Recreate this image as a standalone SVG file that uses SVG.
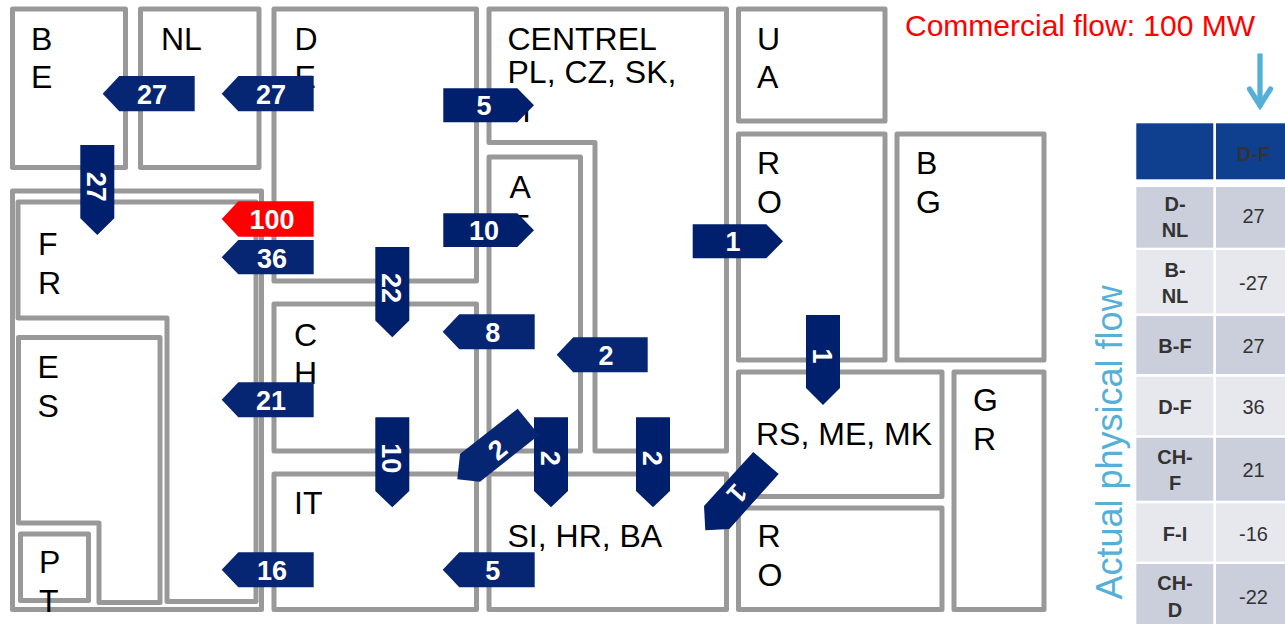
<svg xmlns="http://www.w3.org/2000/svg" width="1285" height="624" viewBox="0 0 1285 624">
<style>
.z{fill:#fff;stroke:#999;stroke-width:5;stroke-linejoin:round}
.l{font:32px "Liberation Sans",Arial,sans-serif;fill:#000}
.a{fill:#001f6c}
.b{fill:#062673}
.r{fill:#f00}
.n{font:bold 27px "Liberation Sans",Arial,sans-serif;fill:#fff;text-anchor:middle}
.h{font:bold 20px "Liberation Sans",Arial,sans-serif;fill:#333;text-anchor:middle}
.v{font:20px "Liberation Sans",Arial,sans-serif;fill:#333;text-anchor:middle}
.d{fill:#cbcfdc}.e{fill:#e7e8ee}.t{fill:#0f3f8f}
</style>
<rect width="1285" height="624" fill="#fff"/>
<g id="BE"><rect class="z" x="12.500" y="9" width="113" height="158.500"/><text class="l" x="31" y="50">B</text><text class="l" x="31" y="88">E</text></g>
<g id="NL"><rect class="z" x="140.500" y="9" width="118.500" height="158.500"/><text class="l" x="161" y="50">NL</text></g>
<g id="DE"><rect class="z" x="274" y="9" width="202.500" height="272"/><text class="l" x="294.500" y="50">D</text><text class="l" x="294.500" y="88">E</text></g>
<g id="FR-outer"><rect class="z" x="12.500" y="191" width="249" height="418.500"/></g>
<g id="FR"><path class="z" d="M18 202H256V601.500H167V318H18Z"/><text class="l" x="38" y="255">F</text><text class="l" x="38" y="294">R</text></g>
<g id="ES"><path class="z" d="M18.500 337.500H160V602.500H99V523H18.500Z"/><text class="l" x="37.500" y="378">E</text><text class="l" x="37.500" y="417">S</text></g>
<g id="PT"><rect class="z" x="20.500" y="534" width="68" height="66.500"/><text class="l" x="39" y="573">P</text><text class="l" x="39" y="612">T</text></g>
<g id="CH"><rect class="z" x="274" y="304" width="202.500" height="147"/><text class="l" x="294" y="346">C</text><text class="l" x="294" y="384">H</text></g>
<g id="IT"><rect class="z" x="274" y="474" width="202.500" height="135.500"/><text class="l" x="294" y="514">IT</text></g>
<g id="CENTREL"><path class="z" d="M489 9H726.500V451H595V142.500H489Z"/><text class="l" x="507.500" y="50">CENTREL</text><text class="l" x="507.500" y="83">PL, CZ, SK,</text><text class="l" x="507.500" y="122">H</text></g>
<g id="AT"><path class="z" d="M489 157H580.500V451H489Z"/><text class="l" x="509.500" y="198">A</text><text class="l" x="509.500" y="237">T</text></g>
<g id="SI-HR-BA"><rect class="z" x="489" y="474" width="237.500" height="135.500"/><text class="l" x="507.500" y="547">SI, HR, BA</text></g>
<g id="UA"><rect class="z" x="738.500" y="9" width="146.500" height="112"/><text class="l" x="757" y="50">U</text><text class="l" x="757" y="88">A</text></g>
<g id="RO1"><rect class="z" x="738.500" y="134" width="146.500" height="226"/><text class="l" x="757" y="174">R</text><text class="l" x="757" y="213">O</text></g>
<g id="BG"><rect class="z" x="897" y="134" width="147" height="226"/><text class="l" x="916" y="174">B</text><text class="l" x="916" y="213">G</text></g>
<g id="RS-ME-MK"><rect class="z" x="738.500" y="372" width="203.500" height="124.500"/><text class="l" x="756" y="445">RS, ME, MK</text></g>
<g id="RO2"><rect class="z" x="738.500" y="508" width="203.500" height="101.500"/><text class="l" x="757.500" y="547">R</text><text class="l" x="757.500" y="586">O</text></g>
<g id="GR"><rect class="z" x="954" y="372" width="90" height="237.500"/><text class="l" x="973" y="411">G</text><text class="l" x="973" y="450">R</text></g>
<g id="connectors">
<path class="b" d="M102.700 93.700L119.300 76H194.700V111.300H119.300Z"/><text class="n" x="152" y="103.500">27</text>
<path class="b" d="M221.700 93.700L238.300 76H313.700V111.300H238.300Z"/><text class="n" x="271" y="103.500">27</text>
<path class="a" d="M80.300 145H114.300V218.300L97.300 235L80.300 218.300Z"/><text class="n" transform="rotate(90 97 186.700)" x="97" y="197.200">27</text>
<path class="r" d="M221.700 219L238.300 201.300H313.700V236.700H238.300Z"/><text class="n" x="272" y="229">100</text>
<path class="b" d="M221.700 257.200L238.300 240H313.700V274.300H238.300Z"/><text class="n" x="272" y="268">36</text>
<path class="b" d="M221.700 399.800L238.300 382.300H313.700V417.300H238.300Z"/><text class="n" x="271" y="410">21</text>
<path class="b" d="M221.700 569.800L238.300 552.300H313.700V587.300H238.300Z"/><text class="n" x="272" y="580">16</text>
<path class="a" d="M443.300 88.300H517.300L534 105.300L517.300 122.300H443.300Z"/><text class="n" x="484" y="115">5</text>
<path class="a" d="M443.300 213.300H517.300L534 230.200L517.300 247H443.300Z"/><text class="n" x="484" y="240">10</text>
<path class="a" d="M692.700 224.300H766.300L783 241.300L766.300 258.300H692.700Z"/><text class="n" x="733" y="251">1</text>
<path class="a" d="M375.300 247H409.300V320.600L392.300 337.300L375.300 320.600Z"/><text class="n" transform="rotate(90 392 288)" x="392" y="298.500">22</text>
<path class="b" d="M442.700 331.800L459.300 314.300H534.700V349.300H459.300Z"/><text class="n" x="492.700" y="341.500">8</text>
<path class="b" d="M556.700 354.800L573.300 337.300H647.700V372.300H573.300Z"/><text class="n" x="606" y="365">2</text>
<path class="a" d="M375.300 417.300H409.300V491L392.300 507.300L375.300 491Z"/><text class="n" transform="rotate(90 392 458.300)" x="392" y="468.800">10</text>
<path class="a" d="M534 417.300H568V491L551 507.300L534 491Z"/><text class="n" transform="rotate(90 551 458.300)" x="551" y="468.800">2</text>
<path class="a" d="M636 417.300H670V491L653 507.300L636 491Z"/><text class="n" transform="rotate(90 653 458.300)" x="653" y="468.800">2</text>
<path class="b" d="M517.700 408.700L539 435L480 481.700L457.300 479.300L460 454Z"/><text class="n" transform="rotate(-39 497.300 449.300)" x="497.300" y="458.800">2</text>
<path class="a" d="M753.300 452L778.700 474L729.300 529L705.300 530.300L704 506Z"/><text class="n" transform="rotate(132 737.300 494)" x="737.300" y="503.500">1</text>
<path class="a" d="M806 315H840V388L823 405L806 388Z"/><text class="n" transform="rotate(90 823 356)" x="823" y="366">1</text>
<path class="b" d="M442.700 569.800L459.300 552.300H534.700V587.300H459.300Z"/><text class="n" x="492.700" y="580">5</text>
</g>
<text x="905" y="36" style="font:30px 'Liberation Sans',Arial,sans-serif;fill:#f00">Commercial flow: 100 MW</text>
<g id="flow-arrow" fill="none" stroke="#55b0d8" stroke-width="5.300"><path d="M1260 53.500V107"/><path d="M1249.500 89L1260 105.500L1270.500 89" stroke-linecap="round"/></g>
<text transform="translate(1122 599.500) rotate(-90)" style="font:36px 'Liberation Sans',Arial,sans-serif;fill:#55b0d8">Actual physical flow</text>
<g id="table">
<rect class="t" x="1136.300" y="123.300" width="77" height="56"/><rect class="t" x="1216" y="123.300" width="69" height="56"/>
<rect class="d" x="1136.300" y="187" width="77" height="60.700"/><rect class="d" x="1216" y="187" width="69" height="60.700"/>
<rect class="e" x="1136.300" y="250" width="77" height="63.300"/><rect class="e" x="1216" y="250" width="69" height="63.300"/>
<rect class="d" x="1136.300" y="316" width="77" height="58"/><rect class="d" x="1216" y="316" width="69" height="58"/>
<rect class="e" x="1136.300" y="376.700" width="77" height="58.600"/><rect class="e" x="1216" y="376.700" width="69" height="58.600"/>
<rect class="d" x="1136.300" y="437.700" width="77" height="63"/><rect class="d" x="1216" y="437.700" width="69" height="63"/>
<rect class="e" x="1136.300" y="503.300" width="77" height="58.400"/><rect class="e" x="1216" y="503.300" width="69" height="58.400"/>
<rect class="d" x="1136.300" y="564" width="77" height="60"/><rect class="d" x="1216" y="564" width="69" height="60"/>
<text class="h" x="1253.500" y="161">D-F</text>
<text class="h" x="1175" y="210.700">D-</text><text class="h" x="1175" y="236.700">NL</text><text class="v" x="1253.500" y="223.300">27</text>
<text class="h" x="1175" y="276.700">B-</text><text class="h" x="1175" y="302.700">NL</text><text class="v" x="1253.500" y="290">-27</text>
<text class="h" x="1175" y="352.700">B-F</text><text class="v" x="1253.500" y="352.700">27</text>
<text class="h" x="1175" y="414">D-F</text><text class="v" x="1253.500" y="414">36</text>
<text class="h" x="1175" y="464">CH-</text><text class="h" x="1175" y="490">F</text><text class="v" x="1253.500" y="476.700">21</text>
<text class="h" x="1175" y="541">F-I</text><text class="v" x="1253.500" y="541">-16</text>
<text class="h" x="1175" y="590">CH-</text><text class="h" x="1175" y="616.700">D</text><text class="v" x="1253.500" y="604">-22</text>
</g>
</svg>
